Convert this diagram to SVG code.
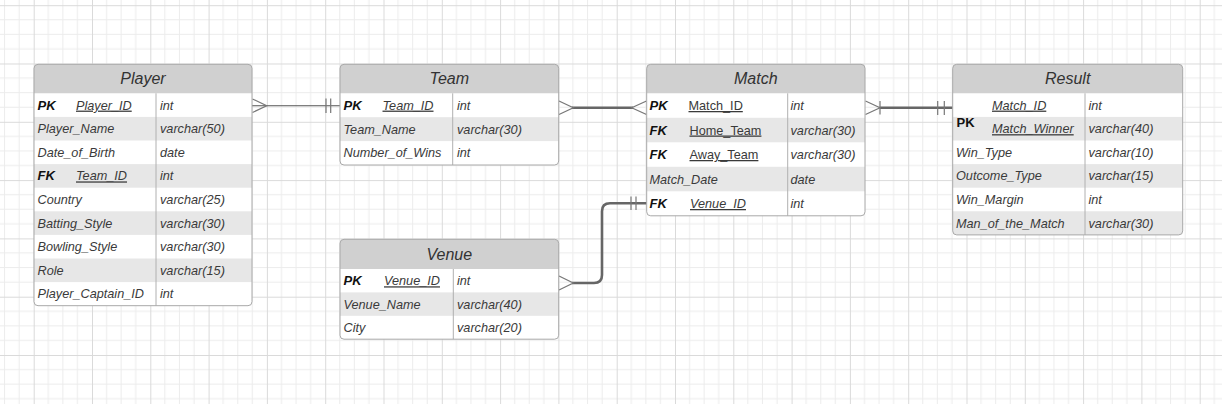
<svg xmlns="http://www.w3.org/2000/svg" width="1222" height="404" viewBox="0 0 1222 404">
<defs>
<pattern id="grid" patternUnits="userSpaceOnUse" x="33.7" y="63.5" width="58.3" height="58.3">
<path d="M14.575,0V58.3M29.15,0V58.3M43.725,0V58.3M0,14.575H58.3M0,29.15H58.3M0,43.725H58.3" stroke="#ececec" stroke-width="1" fill="none"/>
<path d="M0.5,0V58.3M0,0.5H58.3" stroke="#dadada" stroke-width="1" fill="none"/>
</pattern>
<style>
.hd{fill:#d0d0d0}
.gr{fill:#e7e7e7}
.bx{fill:#ffffff}
.ol{fill:none;stroke:#a8a8a8;stroke-width:1}
.dv{stroke:#b0b0b0;stroke-width:1}
.t{font-family:"Liberation Sans",Arial,sans-serif;font-style:italic;font-size:16px;fill:#333;text-anchor:middle}
.f{font-family:"Liberation Sans",Arial,sans-serif;font-style:italic;font-size:12.7px;fill:#3a3a3a}
.k{font-family:"Liberation Sans",Arial,sans-serif;font-style:italic;font-weight:bold;font-size:13px;fill:#111}
.n,.k.n{font-style:normal}
.u{text-decoration:underline}
.thin{fill:none;stroke:#555;stroke-width:1.1}
.thick{fill:none;stroke:#666;stroke-width:2.6}
.cf{fill:none;stroke:#777;stroke-width:1.2}
</style>
</defs>
<rect x="0" y="0" width="1222" height="404" fill="#ffffff"/>
<rect x="0" y="0" width="1222" height="404" fill="url(#grid)"/>

<g id="connectors">
<path class="thin" d="M252,105.7H340"/>
<path class="cf" d="M252.5,99L266.7,105.7L252.5,112.5"/>
<path class="cf" d="M326,98.5V113M330.7,98.5V113"/>

<path class="thick" d="M572,107.7H633"/>
<path class="cf" d="M559,101L573.3,107.7L559,114.5"/>
<path class="cf" d="M646.5,101L631.7,107.7L646.5,114.5"/>

<path class="thick" d="M880,107.7H952.7"/>
<path class="cf" d="M865.5,101L880,107.7L865.5,114.5M880,101V114.5"/>
<path class="cf" d="M937.7,101V115M944.3,101V115"/>

<path class="thick" d="M572,283H594Q602,283 602,275V211.3Q602,203.3 610,203.3H646.7"/>
<path class="cf" d="M559,276L573.3,283L559,290"/>
<path class="cf" d="M631,196.5V210M636,196.5V210"/>
</g>

<g id="player">
<rect class="bx" x="34" y="64.3" width="218" height="241.4" rx="4"/>
<path class="hd" d="M34,68.3Q34,64.3 38,64.3H248Q252,64.3 252,68.3V93.3H34Z"/>
<rect class="gr" x="34" y="116.9" width="218" height="23.6"/>
<rect class="gr" x="34" y="164.1" width="218" height="23.6"/>
<rect class="gr" x="34" y="211.3" width="218" height="23.6"/>
<rect class="gr" x="34" y="258.5" width="218" height="23.6"/>
<line class="dv" x1="156" y1="93.3" x2="156" y2="305.7"/>
<rect class="ol" x="34" y="64.3" width="218" height="241.4" rx="4"/>
<text class="t" x="143" y="84.3">Player</text>
<text class="k" x="37.5" y="109.6">PK</text>
<text class="f u" x="76" y="109.6">Player_ID</text>
<text class="f" x="160" y="109.6">int</text>
<text class="f" x="37.5" y="133.2">Player_Name</text>
<text class="f" x="160" y="133.2">varchar(50)</text>
<text class="f" x="37.5" y="156.8">Date_of_Birth</text>
<text class="f" x="160" y="156.8">date</text>
<text class="k" x="37.5" y="180.4">FK</text>
<text class="f u" x="76" y="180.4">Team_ID</text>
<text class="f" x="160" y="180.4">int</text>
<text class="f" x="37.5" y="204">Country</text>
<text class="f" x="160" y="204">varchar(25)</text>
<text class="f" x="37.5" y="227.6">Batting_Style</text>
<text class="f" x="160" y="227.6">varchar(30)</text>
<text class="f" x="37.5" y="251.2">Bowling_Style</text>
<text class="f" x="160" y="251.2">varchar(30)</text>
<text class="f" x="37.5" y="274.8">Role</text>
<text class="f" x="160" y="274.8">varchar(15)</text>
<text class="f" x="37.5" y="298.4">Player_Captain_ID</text>
<text class="f" x="160" y="298.4">int</text>
</g>

<g id="team">
<rect class="bx" x="340" y="64.3" width="218.7" height="100.7" rx="4"/>
<path class="hd" d="M340,68.3Q340,64.3 344,64.3H554.7Q558.7,64.3 558.7,68.3V93.3H340Z"/>
<rect class="gr" x="340" y="117.2" width="218.7" height="23.9"/>
<line class="dv" x1="452.7" y1="93.3" x2="452.7" y2="165"/>
<rect class="ol" x="340" y="64.3" width="218.7" height="100.7" rx="4"/>
<text class="t" x="449.3" y="84.3">Team</text>
<text class="k" x="343.5" y="109.6">PK</text>
<text class="f u" x="382.5" y="109.6">Team_ID</text>
<text class="f" x="457" y="109.6">int</text>
<text class="f" x="343.5" y="133.5">Team_Name</text>
<text class="f" x="457" y="133.5">varchar(30)</text>
<text class="f" x="343.5" y="157.4">Number_of_Wins</text>
<text class="f" x="457" y="157.4">int</text>
</g>

<g id="match">
<rect class="bx" x="646.7" y="64.3" width="218.3" height="151.5" rx="4"/>
<path class="hd" d="M646.7,68.3Q646.7,64.3 650.7,64.3H861Q865,64.3 865,68.3V93.3H646.7Z"/>
<rect class="gr" x="646.7" y="117.8" width="218.3" height="24.5"/>
<rect class="gr" x="646.7" y="166.8" width="218.3" height="24.5"/>
<line class="dv" x1="787.7" y1="93.3" x2="787.7" y2="215.8"/>
<rect class="ol" x="646.7" y="64.3" width="218.3" height="151.5" rx="4"/>
<text class="t" x="755.8" y="84.3">Match</text>
<text class="k" x="649.5" y="110">PK</text>
<text class="f n u" x="688.5" y="110">Match_ID</text>
<text class="f" x="790.5" y="110">int</text>
<text class="k" x="649.5" y="134.5">FK</text>
<text class="f n u" x="689.5" y="134.5">Home_Team</text>
<text class="f" x="790.5" y="134.5">varchar(30)</text>
<text class="k" x="649.5" y="159">FK</text>
<text class="f n u" x="689.5" y="159">Away_Team</text>
<text class="f" x="790.5" y="159">varchar(30)</text>
<text class="f" x="649.5" y="183.5">Match_Date</text>
<text class="f" x="790.5" y="183.5">date</text>
<text class="k" x="649.5" y="208">FK</text>
<text class="f u" x="690" y="208">Venue_ID</text>
<text class="f" x="790.5" y="208">int</text>
</g>

<g id="result">
<rect class="bx" x="952.7" y="64.3" width="230" height="170.6" rx="4"/>
<path class="hd" d="M952.7,68.3Q952.7,64.3 956.7,64.3H1178.7Q1182.7,64.3 1182.7,68.3V93.3H952.7Z"/>
<rect class="gr" x="952.7" y="116.9" width="230" height="23.6"/>
<rect class="gr" x="952.7" y="164.1" width="230" height="23.6"/>
<path class="gr" d="M952.7,211.3H1182.7V230.9Q1182.7,234.9 1178.7,234.9H956.7Q952.7,234.9 952.7,230.9Z"/>
<line class="dv" x1="1085" y1="93.3" x2="1085" y2="234.9"/>
<rect class="ol" x="952.7" y="64.3" width="230" height="170.6" rx="4"/>
<text class="t" x="1067.7" y="84.3">Result</text>
<text class="k n" x="956.5" y="126.5">PK</text>
<text class="f u" x="992" y="109.6">Match_ID</text>
<text class="f" x="1088.5" y="109.6">int</text>
<text class="f u" x="992" y="133.2">Match_Winner</text>
<text class="f" x="1088.5" y="133.2">varchar(40)</text>
<text class="f" x="956" y="156.8">Win_Type</text>
<text class="f" x="1088.5" y="156.8">varchar(10)</text>
<text class="f" x="956" y="180.4">Outcome_Type</text>
<text class="f" x="1088.5" y="180.4">varchar(15)</text>
<text class="f" x="956" y="204">Win_Margin</text>
<text class="f" x="1088.5" y="204">int</text>
<text class="f" x="956" y="227.6">Man_of_the_Match</text>
<text class="f" x="1088.5" y="227.6">varchar(30)</text>
</g>

<g id="venue">
<rect class="bx" x="340" y="239.3" width="218.7" height="99.9" rx="4"/>
<path class="hd" d="M340,243.3Q340,239.3 344,239.3H554.7Q558.7,239.3 558.7,243.3V269H340Z"/>
<rect class="gr" x="340" y="292.4" width="218.7" height="23.4"/>
<line class="dv" x1="453.3" y1="269" x2="453.3" y2="339.2"/>
<rect class="ol" x="340" y="239.3" width="218.7" height="99.9" rx="4"/>
<text class="t" x="449.3" y="259.6">Venue</text>
<text class="k" x="343.5" y="285.3">PK</text>
<text class="f u" x="384" y="285.3">Venue_ID</text>
<text class="f" x="457" y="285.3">int</text>
<text class="f" x="343.5" y="308.7">Venue_Name</text>
<text class="f" x="457" y="308.7">varchar(40)</text>
<text class="f" x="343.5" y="332.1">City</text>
<text class="f" x="457" y="332.1">varchar(20)</text>
</g>
</svg>
